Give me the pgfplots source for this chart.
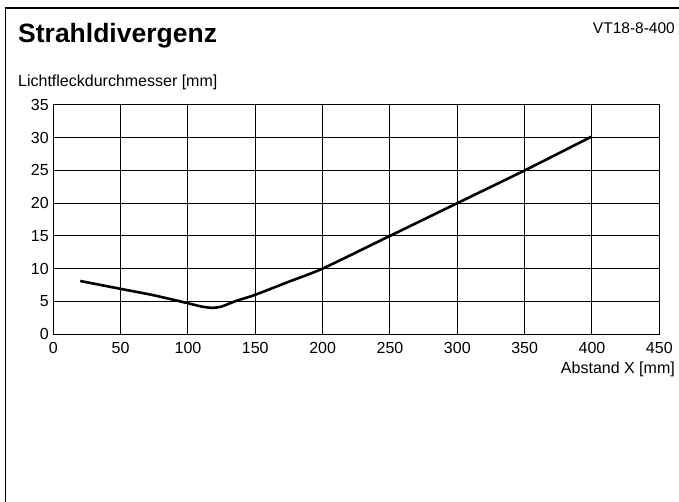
\documentclass[border=0pt]{standalone}
\usepackage{fontspec}
\setmainfont{Liberation Sans}
\usepackage{pgfplots}
\pgfplotsset{compat=1.18}
\begin{document}
\begin{tikzpicture}[x=1pt,y=1pt]
\useasboundingbox (0,0) rectangle (679,-502);
\draw[line width=1.5pt] (5.5,-502) -- (5.5,-8) -- (679,-8);
\node[anchor=base west,inner sep=0pt,font=\fontsize{26.5}{30}\selectfont\bfseries] at (18,-43) {Strahldivergenz};
\node[anchor=base east,inner sep=0pt,font=\fontsize{15.5}{18}\selectfont] at (675,-34) {VT18-8-400};
\node[anchor=base west,inner sep=0pt,font=\fontsize{16}{19}\selectfont] at (18,-87) {Lichtfleckdurchmesser [mm]};
\node[anchor=base east,inner sep=0pt,font=\fontsize{16}{19}\selectfont] at (675,-373) {Abstand X [mm]};
\begin{axis}[at={(53.3pt,-334pt)}, anchor=south west, scale only axis,
  width=606pt, height=229pt,
  xmin=0, xmax=450, ymin=0, ymax=35,
  xtick={0,50,...,450}, ytick={0,5,...,35},
  grid=major, major grid style={black, line width=1pt},
  axis line style={line width=1pt},
  tick style={draw=none},
  tick label style={font=\fontsize{16}{19}\selectfont},
  /pgf/number format/assume math mode=true,
  xticklabel style={yshift=-5pt},
  yticklabel style={xshift=-1pt},
  clip=false]
\addplot[black, line width=2.6pt, smooth, tension=0.4] coordinates {
(20,8.1) (50,6.9) (75,5.9) (100,4.7) (110,4.2) (118,4.0) (125,4.2) (135,5.0) (150,6.0) (175,8.0) (200,10) (250,15) (300,20) (350,25) (400,30.2)
};
\end{axis}
\end{tikzpicture}
\end{document}
